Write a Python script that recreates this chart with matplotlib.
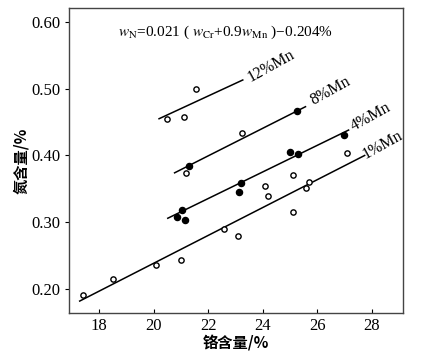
import numpy as np
import matplotlib
matplotlib.use("Agg")
import matplotlib.pyplot as plt

plt.rcParams['font.family'] = ['Liberation Serif', 'Noto Sans CJK SC']
plt.rcParams['mathtext.fontset'] = 'stix'

# open circles (measured)
open_x = [17.4, 18.5, 20.1, 21.0, 22.6, 23.1, 25.1, 24.1, 24.2, 25.1, 25.6, 25.7, 27.1,
          21.2, 20.5, 21.1, 21.55, 23.25]
open_y = [0.191, 0.215, 0.236, 0.243, 0.290, 0.279, 0.316, 0.354, 0.340, 0.370, 0.351, 0.361, 0.403,
          0.374, 0.455, 0.457, 0.499, 0.434]

# filled circles
filled_x = [21.3, 21.05, 20.85, 21.15, 23.2, 23.15, 25.0, 25.3, 25.25, 27.0]
filled_y = [0.384, 0.318, 0.308, 0.303, 0.359, 0.346, 0.405, 0.402, 0.467, 0.431]

# fit lines for each Mn level (end points)
mn_labels = ['12%Mn', '8%Mn', '4%Mn', '1%Mn']
line_x = [(20.2, 23.27), (20.77, 25.57), (20.52, 27.15), (17.29, 27.74)]
line_y = [(0.455, 0.513), (0.374, 0.473), (0.306, 0.438), (0.182, 0.400)]
label_x = [24.3, 26.5, 27.95, 28.4]
label_y = [0.534, 0.496, 0.458, 0.416]

fig = plt.figure(figsize=(4.29, 3.57), dpi=100)
ax = fig.add_axes([0.161, 0.123, 0.778, 0.855])

for lx, ly in zip(line_x, line_y):
    ax.plot(lx, ly, color='black', lw=1.1)

ax.plot(open_x, open_y, 'o', mfc='white', mec='black', ms=3.8, mew=1.0, ls='none')
ax.plot(filled_x, filled_y, 'o', mfc='black', mec='black', ms=4.4, ls='none')

for txt, tx, ty in zip(mn_labels, label_x, label_y):
    ax.text(tx, ty, txt, fontsize=11.5, rotation=29, ha='center', va='center')

ax.text(22.65, 0.584, r'$w_{\rm N}$=0.021 ( $w_{\rm Cr}$+0.9$w_{\rm Mn}$ )−0.204%',
        fontsize=11, ha='center', va='center')

ax.set_xlim(16.9, 29.14)
ax.set_ylim(0.164, 0.621)
ax.set_xticks([18, 20, 22, 24, 26, 28])
ax.set_yticks([0.20, 0.30, 0.40, 0.50, 0.60])
ax.set_yticklabels(['0.20', '0.30', '0.40', '0.50', '0.60'])
ax.tick_params(axis='x', direction='in', length=3, labelsize=12)
ax.tick_params(axis='y', direction='out', length=3, labelsize=12)
for s in ax.spines.values():
    s.set_color('#444444')
    s.set_linewidth(1.0)

ax.set_xlabel('铬含量/%', fontsize=11, family=['Noto Sans CJK SC'], fontweight='bold', labelpad=1)
ax.set_ylabel('氮含量/%', fontsize=11, family=['Noto Sans CJK SC'], fontweight='bold', labelpad=1)

fig.savefig('out.png', dpi=100)
